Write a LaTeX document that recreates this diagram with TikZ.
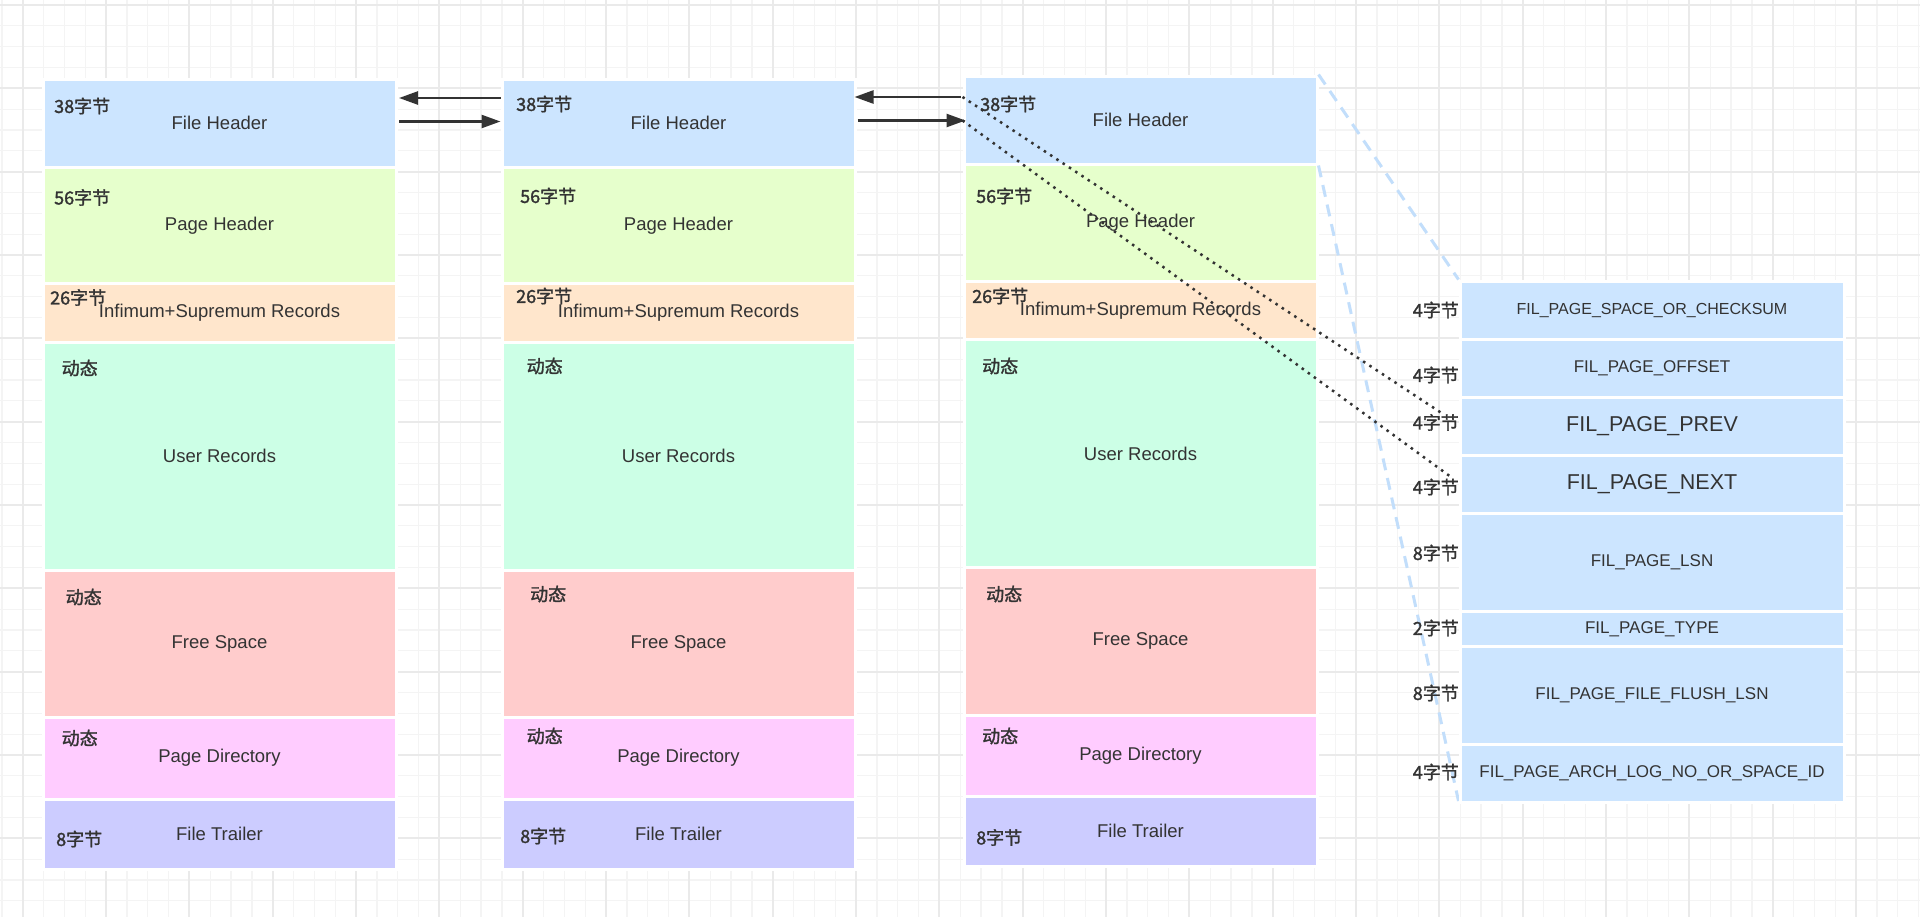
\documentclass[tikz,border=0pt]{standalone}
\usepackage{fontspec}
\setmainfont{Liberation Sans}
\newfontfamily\cjk[FakeBold=1.6]{Noto Sans CJK SC}
\usetikzlibrary{arrows.meta}
\definecolor{txt}{HTML}{333333}
\definecolor{fhblue}{HTML}{CCE5FF}
\definecolor{phgreen}{HTML}{E6FFCC}
\definecolor{isorange}{HTML}{FFE6CC}
\definecolor{urmint}{HTML}{CCFFE6}
\definecolor{fsred}{HTML}{FFCCCC}
\definecolor{pdpink}{HTML}{FFCCFF}
\definecolor{ftpurple}{HTML}{CCCCFF}
\definecolor{zoomblue}{HTML}{C2DEFB}
\definecolor{gridminor}{HTML}{F4F4F4}
\definecolor{gridmajor}{HTML}{EAEAEA}
\tikzset{
  pagepart/.style={draw=white, line width=3pt, inner sep=0pt, anchor=north west, minimum width=353pt, text=txt, font=\fontsize{18.5}{22}\selectfont},
  bytelabel/.style={inner sep=0pt, anchor=west, text=txt, font=\cjk\fontsize{18}{21}\selectfont},
  filfield/.style={draw=white, line width=3pt, inner sep=0pt, anchor=north west, minimum width=384pt, fill=fhblue, text=txt, font=\fontsize{17}{20}\selectfont},
  pagelink/.style={-{Triangle[length=19pt,width=13pt]}, line width=2.5pt, draw=txt},
  ptrdots/.style={line width=2.5pt, draw=txt, dash pattern=on 2.5pt off 5pt},
  zoomdash/.style={line width=3pt, draw=zoomblue, dash pattern=on 12pt off 8pt}
}
\begin{document}
\begin{tikzpicture}[x=1pt,y=-1pt]
\useasboundingbox (0,0) rectangle (1920,916);
\fill[white] (0,0) rectangle (1920,916);
% canvas grid
\begin{scope}
\clip (0,0) rectangle (1920,916);
\draw[gridminor, line width=1.3pt, shift={(1.87,5)}] (-21,-21) grid[step=20.8333pt] (1930,930);
\draw[gridmajor, line width=1.8pt, shift={(22.7,5)}] (-84,-84) grid[step=83.3333pt] (1930,930);
\end{scope}
% left page
\node[pagepart, fill=fhblue, minimum height=88pt] (fh1) at (41.5,77.5) {File Header};
\node[pagepart, fill=phgreen, minimum height=116.5pt] (ph1) at (41.5,165.5) {Page Header};
\node[pagepart, fill=isorange, minimum height=58.5pt] (is1) at (41.5,282) {Infimum+Supremum Records};
\node[pagepart, fill=urmint, minimum height=228pt] (ur1) at (41.5,340.5) {User Records};
\node[pagepart, fill=fsred, minimum height=147pt] (fs1) at (41.5,568.5) {Free Space};
\node[pagepart, fill=pdpink, minimum height=82pt] (pd1) at (41.5,715.5) {Page Directory};
\node[pagepart, fill=ftpurple, minimum height=70pt] (ft1) at (41.5,797.5) {File Trailer};
\node[bytelabel] (fh1b) at (54,106) {38字节};
\node[bytelabel] (ph1b) at (54,197.5) {56字节};
\node[bytelabel] (is1b) at (50,297.5) {26字节};
\node[bytelabel] (ur1b) at (61.5,368) {动态};
\node[bytelabel] (fs1b) at (65.5,597) {动态};
\node[bytelabel] (pd1b) at (61.5,738) {动态};
\node[bytelabel] (ft1b) at (56,839) {8字节};
% middle page
\node[pagepart, fill=fhblue, minimum height=88pt] (fh2) at (500.5,77.5) {File Header};
\node[pagepart, fill=phgreen, minimum height=116.5pt] (ph2) at (500.5,165.5) {Page Header};
\node[pagepart, fill=isorange, minimum height=58.5pt] (is2) at (500.5,282) {Infimum+Supremum Records};
\node[pagepart, fill=urmint, minimum height=228pt] (ur2) at (500.5,340.5) {User Records};
\node[pagepart, fill=fsred, minimum height=147pt] (fs2) at (500.5,568.5) {Free Space};
\node[pagepart, fill=pdpink, minimum height=82pt] (pd2) at (500.5,715.5) {Page Directory};
\node[pagepart, fill=ftpurple, minimum height=70pt] (ft2) at (500.5,797.5) {File Trailer};
\node[bytelabel] (fh2b) at (516,104) {38字节};
\node[bytelabel] (ph2b) at (520,196) {56字节};
\node[bytelabel] (is2b) at (516,296) {26字节};
\node[bytelabel] (ur2b) at (526.5,366) {动态};
\node[bytelabel] (fs2b) at (530,594) {动态};
\node[bytelabel] (pd2b) at (526.5,736) {动态};
\node[bytelabel] (ft2b) at (520,836) {8字节};
% right page
\node[pagepart, fill=fhblue, minimum height=88pt] (fh3) at (962.5,74.5) {File Header};
\node[pagepart, fill=phgreen, minimum height=117pt] (ph3) at (962.5,162.5) {Page Header};
\node[pagepart, fill=isorange, minimum height=58.5pt] (is3) at (962.5,279.5) {Infimum+Supremum Records};
\node[pagepart, fill=urmint, minimum height=228pt] (ur3) at (962.5,338) {User Records};
\node[pagepart, fill=fsred, minimum height=147.5pt] (fs3) at (962.5,566) {Free Space};
\node[pagepart, fill=pdpink, minimum height=81.5pt] (pd3) at (962.5,713.5) {Page Directory};
\node[pagepart, fill=ftpurple, minimum height=69.5pt] (ft3) at (962.5,795) {File Trailer};
\node[bytelabel] (fh3b) at (980,104) {38字节};
\node[bytelabel] (ph3b) at (976,196) {56字节};
\node[bytelabel] (is3b) at (972,296) {26字节};
\node[bytelabel] (ur3b) at (982,366) {动态};
\node[bytelabel] (fs3b) at (986,594) {动态};
\node[bytelabel] (pd3b) at (982,736) {动态};
\node[bytelabel] (ft3b) at (976,837.5) {8字节};
% file header fields
\draw[zoomdash] (fh3.north east) -- (1458.5,279.5);
\draw[zoomdash] (fh3.south east) -- (1458.5,801);
\node[filfield, minimum height=58pt, font=\fontsize{16}{19}\selectfont] (fld1) at (1458.5,279.5) {FIL\_PAGE\_SPACE\_OR\_CHECKSUM};
\node[filfield, minimum height=58pt] (fld2) at (1458.5,337.5) {FIL\_PAGE\_OFFSET};
\node[filfield, minimum height=58pt, font=\fontsize{21.5}{24}\selectfont] (fld3) at (1458.5,395.5) {FIL\_PAGE\_PREV};
\node[filfield, minimum height=58pt, font=\fontsize{21.5}{24}\selectfont] (fld4) at (1458.5,453.5) {FIL\_PAGE\_NEXT};
\node[filfield, minimum height=98.5pt] (fld5) at (1458.5,511.5) {FIL\_PAGE\_LSN};
\node[filfield, minimum height=34.5pt] (fld6) at (1458.5,610) {FIL\_PAGE\_TYPE};
\node[filfield, minimum height=98pt] (fld7) at (1458.5,644.5) {FIL\_PAGE\_FILE\_FLUSH\_LSN};
\node[filfield, minimum height=58.5pt] (fld8) at (1458.5,742.5) {FIL\_PAGE\_ARCH\_LOG\_NO\_OR\_SPACE\_ID};
\node[bytelabel, anchor=east] (fld1b) at (1459,310) {4字节};
\node[bytelabel, anchor=east] (fld2b) at (1459,375) {4字节};
\node[bytelabel, anchor=east] (fld3b) at (1459,422.5) {4字节};
\node[bytelabel, anchor=east] (fld4b) at (1459,487) {4字节};
\node[bytelabel, anchor=east] (fld5b) at (1459,553) {8字节};
\node[bytelabel, anchor=east] (fld6b) at (1459,628) {2字节};
\node[bytelabel, anchor=east] (fld7b) at (1459,693) {8字节};
\node[bytelabel, anchor=east] (fld8b) at (1459,772) {4字节};
% prev / next links
\draw[pagelink, shorten >=1.5pt] (fh2.west |- 0,98) -- (fh1.east |- 0,98);
\draw[pagelink, shorten <=1.5pt] (fh1.east |- 0,121.5) -- (fh2.west |- 0,121.5);
\draw[pagelink, shorten <=1.5pt, shorten >=-2pt] (fh3.west |- 0,97) -- (fh2.east |- 0,97);
\draw[pagelink, shorten <=1pt, shorten >=-3pt] (fh2.east |- 0,120.5) -- (fh3.west |- 0,120.5);
\coordinate (prevend) at (1443,414);
\coordinate (nextend) at (1451,477);
\draw[ptrdots] (fh3.west |- 0,97) -- (prevend);
\draw[ptrdots] (fh3.west |- 0,120.5) -- (nextend);
\end{tikzpicture}
\end{document}
